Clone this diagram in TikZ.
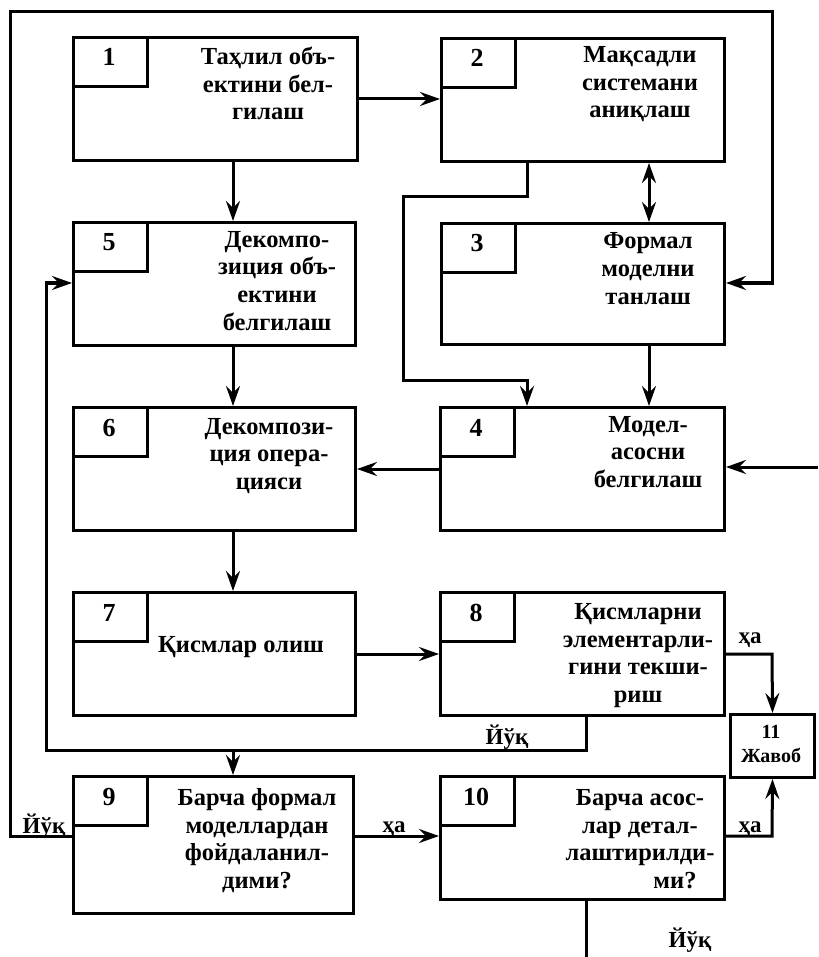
\documentclass[tikz,border=0pt]{standalone}
\usepackage{fontspec}
\setmainfont{Liberation Serif}
\usetikzlibrary{arrows.meta,calc}
\tikzset{
  box/.style={draw, line width=3pt, anchor=north west, inner sep=0pt, minimum height=123pt},
  numbox/.style={draw, line width=3pt, anchor=north west, inner sep=0pt, minimum width=74pt, minimum height=49pt},
  numtxt/.style={anchor=base, inner sep=0pt, font=\fontsize{26}{28}\selectfont\bfseries},
  txt/.style={align=center, anchor=base, inner sep=0pt, font=\fontsize{24.5}{27.5}\selectfont\bfseries},
  lbl/.style={anchor=base, inner sep=0pt, font=\fontsize{23}{26}\selectfont\bfseries},
  small/.style={align=center, anchor=base, inner sep=0pt, font=\fontsize{20}{23}\selectfont\bfseries},
  conn/.style={line width=3pt},
  tip/.tip={Stealth[length=20pt,width=14pt,inset=7pt]},
  arr/.style={conn, -tip},
  dblarr/.style={conn, tip-tip},
}
\newcommand\blk[6]{%
  \node[box, minimum width=#4pt, minimum height=#5pt] (#1) at (#2,#3) {};
  \node[numbox] (#1n) at (#1.north west) {};
  \node[numtxt] (#1d) at ($(#1.north west)+(37,30)$) {#6};
}
\begin{document}
\begin{tikzpicture}[x=1pt,y=-1pt]
\useasboundingbox (0,0) rectangle (818,957);
% blocks
\blk{b1}{72}{36}{284}{123}{1}
\blk{b2}{440}{37}{283}{123}{2}
\blk{b3}{440}{222}{283}{121}{3}
\blk{b4}{439}{406}{284}{123}{4}
\blk{b5}{72}{221}{282}{123}{5}
\blk{b6}{72}{406}{282}{123}{6}
\blk{b7}{72}{591}{282}{123}{7}
\blk{b8}{439}{591}{284}{123}{8}
\blk{b9}{72}{775}{280}{137}{9}
\blk{b10}{439}{775}{284}{123}{10}
\node[box, minimum width=84pt, minimum height=63pt] (b11) at (729,713) {};
% texts (anchor = baseline of the last line)
\node[txt] (t1) at (268,120) {Таҳлил объ-\\ектини бел-\\гилаш};
\node[txt] (t2) at (640,118) {Мақсадли\\системани\\аниқлаш};
\node[txt] (t3) at (648,304) {Формал\\моделни\\танлаш};
\node[txt] (t4) at (648,487) {Модел-\\асосни\\белгилаш};
\node[txt] (t5) at (277,330) {Декомпо-\\зиция объ-\\ектини\\белгилаш};
\node[txt] (t6) at (269,489) {Декомпози-\\ция опера-\\цияси};
\node[txt] (t7) at (241,652) {Қисмлар олиш};
\node[txt] (t8) at (638,702) {Қисмларни\\элементарли-\\гини текши-\\риш};
\node[txt] (t9) at (257,888) {Барча формал\\моделлардан\\фойдаланил-\\дими?};
\node[txt] (t10) at (640,888) {Барча асос-\\лар детал-\\лаштирилди-\\\hspace*{70pt}ми?};
\node[small] (t11a) at (771,738) {11};
\node[small] (t11b) at (771,762) {Жавоб};
% coordinates
\coordinate (xL) at (233,0);
\coordinate (xJ) at (527,0);
\coordinate (xD) at (649,0);
\coordinate (xB) at (586,0);
\coordinate (xR) at (772,0);
\coordinate (xO) at (10,0);
\coordinate (xI) at (46,0);
\coordinate (xW) at (403,0);
\coordinate (yTop) at (0,12);
\coordinate (y3) at (0,283);
\coordinate (yJ1) at (0,197);
\coordinate (yJ2) at (0,380);
\coordinate (yN) at (0,750);
\coordinate (y9) at (0,836);
\coordinate (edgeR) at (818,467);
\coordinate (edgeB) at (586,957);
% connectors
\draw[arr] (b1.east) -- (b1.east -| b2.west);
\draw[arr] (b1.south -| xL) -- (b5.north -| xL);
\draw[arr] (b5.south -| xL) -- (b6.north -| xL);
\draw[arr] (b6.south -| xL) -- (b7.north -| xL);
\draw[arr] (b2.south -| xJ) -- (xJ |- yJ1) -- (xW |- yJ1) -- (xW |- yJ2) -- (xJ |- yJ2) -- (b4.north -| xJ);
\draw[dblarr] (b2.south -| xD) -- (b3.north -| xD);
\draw[arr] (b3.south -| xD) -- (b4.north -| xD);
\draw[arr] (edgeR) -- (b4.east |- edgeR);
\draw[arr] (b4.west) -- (b4.west -| b6.east);
\draw[arr] (b7.east) -- (b7.east -| b8.west);
\draw[arr] (b8.east |- b7.east) -- (xR |- b7.east) -- (b11.north);
\draw[arr] (b8.south -| xB) -- (xB |- yN) -- (xI |- yN) -- (xI |- y3) -- (b5.west |- y3);
\draw[arr] (xL |- yN) -- (b9.north -| xL);
\draw[arr] (b9.west |- y9) -- (xO |- y9) -- (xO |- yTop) -- (xR |- yTop) -- (xR |- y3) -- (b3.east |- y3);
\draw[arr] (b9.east |- y9) -- (b10.west |- y9);
\draw[arr] (b10.east |- y9) -- (xR |- y9) -- (b11.south);
\draw[conn] (b10.south -| xB) -- (edgeB);
% labels
\node[lbl] (l1) at (750,643) {ҳа};
\node[lbl] (l2) at (507,744) {Йўқ};
\node[lbl] (l3) at (44,833) {Йўқ};
\node[lbl] (l4) at (394,832) {ҳа};
\node[lbl] (l5) at (750,832) {ҳа};
\node[lbl] (l6) at (690,947) {Йўқ};
\end{tikzpicture}
\end{document}
